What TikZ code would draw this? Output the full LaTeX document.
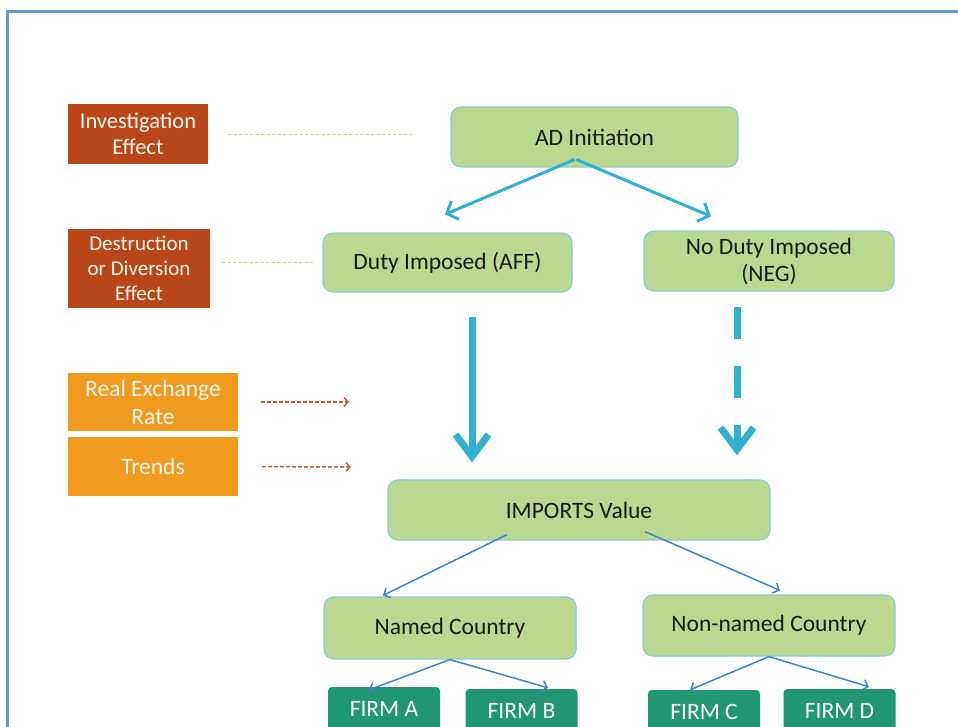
\documentclass[tikz,border=0pt]{standalone}
\usepackage{fontspec}
\setmainfont{Carlito}
\usetikzlibrary{arrows.meta, positioning, calc}
\definecolor{adRust}{RGB}{183,71,24}
\definecolor{adAmber}{RGB}{241,155,30}
\definecolor{adLeaf}{RGB}{187,216,145}
\definecolor{adEdge}{RGB}{140,200,218}
\definecolor{adInk}{RGB}{25,25,25}
\definecolor{adCyan}{RGB}{51,175,207}
\definecolor{adBlue}{RGB}{65,130,195}
\definecolor{adFirm}{RGB}{32,150,115}
\definecolor{adDot}{RGB}{185,218,140}
\definecolor{adBrick}{RGB}{192,95,65}
\definecolor{adFrame}{RGB}{91,155,213}

\begin{document}
\begin{tikzpicture}[
    font=\fontsize{23.5}{27}\selectfont, x=1pt, y=-1pt,
    stage/.style={draw=adEdge, line width=1.2pt, fill=adLeaf, text=adInk,
                  rounded corners=10pt, align=center, inner sep=0pt},
    effect/.style={fill=adRust, text=white!92!adAmber, align=center, inner sep=0pt},
    driver/.style={fill=adAmber, text=white!94!adRust, align=center, inner sep=0pt},
    firm/.style={fill=adFirm, text=white, rounded corners=4pt,
                 minimum width=112pt, minimum height=44pt, inner sep=0pt},
    split/.style={draw=adCyan, line width=3pt,
                  -{Straight Barb[length=9pt, width=20pt]}},
    flow/.style={draw=adCyan, line width=7pt,
                 -{Straight Barb[length=22pt, width=33pt]}},
    branch/.style={draw=adBlue, line width=1.5pt,
                   -{Straight Barb[length=5pt, width=11pt]}},
    hint/.style={draw=adDot, line width=1pt, dash pattern=on 3pt off 2.5pt},
    push/.style={draw=adBrick, line width=1.5pt, dash pattern=on 4pt off 2pt,
                 -{Straight Barb[length=4pt, width=9pt]}}
]
\useasboundingbox (0,0) rectangle (958,726);
\clip (0,0) rectangle (958,726);

% Frame
\draw[adFrame, line width=3pt] (7,740) -- (7,11) -- (970,11);

% Left column
\node[effect, minimum width=140pt, minimum height=60pt,
      font=\fontsize{22.5}{26}\selectfont] (invest) at (138,134)
     {Investigation\\Effect};
\node[effect, minimum width=142pt, minimum height=79pt,
      font=\fontsize{21}{25}\selectfont] (destr) at (139,268.5)
     {Destruction\\or Diversion\\Effect};
\node[driver, minimum width=170pt, minimum height=58pt,
      font=\fontsize{23.5}{28}\selectfont] (rer) at (153,402)
     {Real Exchange\\Rate};
\node[driver, minimum width=170pt, minimum height=59pt] (trends) at (153,466.5)
     {Trends};
\coordinate (rerend) at (349,402);
\coordinate (trendsend) at (351,467);

% Main flow
\node[stage, minimum width=287pt, minimum height=60pt] (init) at (594.5,137)
     {AD Initiation};
\node[stage, minimum width=249pt, minimum height=59pt] (duty) at (447.5,262.5)
     {Duty Imposed (AFF)};
\node[stage, minimum width=250pt, minimum height=60pt] (noduty) at (769,261)
     {No Duty Imposed\\(NEG)};
\node[stage, minimum width=382pt, minimum height=60pt] (imports) at (579,510)
     {IMPORTS Value};
\node[stage, minimum width=252pt, minimum height=62pt] (named) at (450,628)
     {Named Country};
\node[stage, minimum width=252pt, minimum height=61pt] (nonnamed) at (769,625.5)
     {Non-named Country};

% Firms
\foreach \n/\x/\y/\name in {firmA/384/709/FIRM A, firmB/521.5/711/FIRM B,
                            firmC/704/712/FIRM C, firmD/839.5/711/FIRM D} {
   \node[firm] (\n) at (\x,\y) {\name};
}

% Connectors
\draw[hint, shorten <=20pt, shorten >=38pt] (invest.east) -- (invest.east -| init.west);
\draw[hint, shorten <=12pt, shorten >=7pt] (duty.west -| destr.east) -- (duty.west);
\draw[push, shorten <=23pt] (rer.east) -- (rerend);
\draw[push, shorten <=24pt] (trends.east) -- (trendsend);

\draw[split] ([xshift=-20pt, yshift=8pt]init.south) -- ([xshift=-2.5pt, yshift=18pt]duty.north);
\draw[split] ([xshift=-18pt, yshift=8pt]init.south) -- ([xshift=-58pt, yshift=14pt]noduty.north);

\draw[flow] ([xshift=24.5pt, yshift=-24pt]duty.south) -- ([xshift=-107pt, yshift=17pt]imports.north);
\draw[flow, dash pattern=on 32pt off 27pt]
     ([xshift=-32pt, yshift=-15pt]noduty.south) -- ([xshift=158pt, yshift=24pt]imports.north);

\draw[branch] ([xshift=-72pt, yshift=6pt]imports.south) -- ([xshift=-67pt, yshift=1pt]named.north);
\draw[branch] ([xshift=66pt, yshift=9pt]imports.south) -- ([xshift=11pt, yshift=4pt]nonnamed.north);

\draw[branch] (named.south) -- ([xshift=-15pt, yshift=-3pt]firmA.north);
\draw[branch] (named.south) -- ([xshift=26.5pt, yshift=1pt]firmB.north);
\draw[branch] (nonnamed.south) -- ([xshift=-14pt]firmC.north);
\draw[branch] (nonnamed.south) -- ([xshift=29.5pt, yshift=2pt]firmD.north);
\end{tikzpicture}
\end{document}
